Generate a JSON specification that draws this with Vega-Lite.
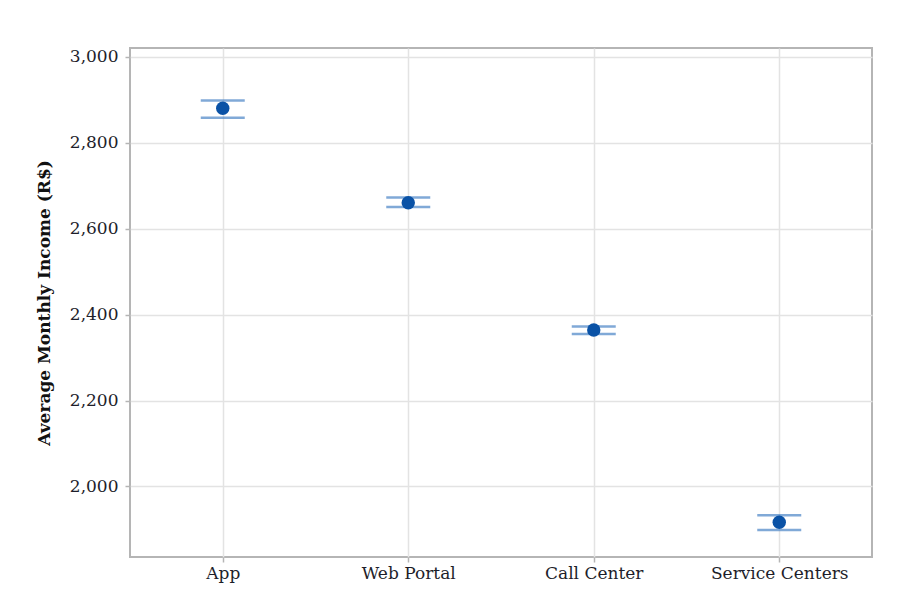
{
  "$schema": "https://vega.github.io/schema/vega-lite/v6.json",
  "autosize": "none",
  "width": 742,
  "height": 509,
  "padding": {"left": 130, "top": 48, "right": 29, "bottom": 45},
  "background": "white",
  "config": {
    "view": {"stroke": "#b5b5b5", "strokeWidth": 2},
    "axis": {
      "labelFont": "DejaVu Serif",
      "titleFont": "DejaVu Serif",
      "labelColor": "#1e1e2a",
      "titleColor": "#111111",
      "gridColor": "#e3e3e3",
      "gridWidth": 1.5,
      "tickColor": "#b5b5b5",
      "tickSize": 5,
      "tickWidth": 1.5,
      "domain": false
    }
  },
  "data": {
    "values": [
      {"channel": "App", "mean": 2880, "lo": 2858, "hi": 2898},
      {"channel": "Web Portal", "mean": 2660, "lo": 2650, "hi": 2672},
      {"channel": "Call Center", "mean": 2364, "lo": 2355, "hi": 2372},
      {"channel": "Service Centers", "mean": 1917, "lo": 1899, "hi": 1933}
    ]
  },
  "encoding": {
    "x": {
      "field": "channel",
      "type": "nominal",
      "sort": null,
      "scale": {"type": "point", "padding": 0.5},
      "axis": {"title": null, "labelAngle": 0, "labelFontSize": 17, "labelPadding": 3, "grid": true}
    }
  },
  "layer": [
    {
      "mark": {"type": "tick", "orient": "horizontal", "size": 44, "thickness": 2.5, "color": "#4a84c6"},
      "encoding": {
        "y": {
          "field": "lo",
          "type": "quantitative",
          "scale": {"domain": [1836, 3020], "nice": false, "zero": false},
          "axis": {
            "title": "Average Monthly Income (R$)",
            "titleFontSize": 17,
            "titleFontWeight": "bold",
            "titlePadding": 16,
            "labelFontSize": 17,
            "labelPadding": 7,
            "values": [2000, 2200, 2400, 2600, 2800, 3000],
            "format": ",d",
            "grid": true
          }
        }
      }
    },
    {
      "mark": {"type": "tick", "orient": "horizontal", "size": 44, "thickness": 2.5, "color": "#4a84c6"},
      "encoding": {"y": {"field": "hi", "type": "quantitative"}}
    },
    {
      "mark": {"type": "circle", "size": 180, "opacity": 1, "color": "#0a52a6"},
      "encoding": {"y": {"field": "mean", "type": "quantitative"}}
    }
  ]
}
